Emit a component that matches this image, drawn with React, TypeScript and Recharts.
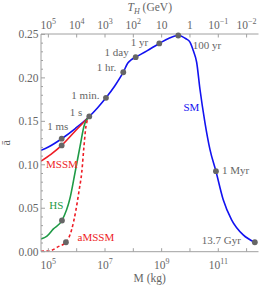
import React from 'react';
import { ComposedChart, Line, XAxis, YAxis, ReferenceDot } from 'recharts';

// Curves: [log10(M / kg), ā]
const smCurve = [
  { logM: 4.74, a: 0.1166 }, { logM: 5.0, a: 0.1205 }, { logM: 5.47, a: 0.13 }, { logM: 5.96, a: 0.142 },
  { logM: 6.445, a: 0.1556 }, { logM: 6.74, a: 0.1657 }, { logM: 7.034, a: 0.1771 }, { logM: 7.35, a: 0.191 },
  { logM: 7.645, a: 0.2065 }, { logM: 7.8, a: 0.2169 }, { logM: 7.92, a: 0.2207 }, { logM: 8.083, a: 0.2238 },
  { logM: 8.48, a: 0.2311 }, { logM: 8.916, a: 0.2396 }, { logM: 9.26, a: 0.2456 }, { logM: 9.587, a: 0.2488 },
  { logM: 9.858, a: 0.245 }, { logM: 10.0, a: 0.2412 }, { logM: 10.12, a: 0.2311 }, { logM: 10.236, a: 0.218 },
  { logM: 10.352, a: 0.1872 }, { logM: 10.529, a: 0.1486 }, { logM: 10.705, a: 0.1177 }, { logM: 10.917, a: 0.0926 },
  { logM: 11.175, a: 0.0598 }, { logM: 11.47, a: 0.0367 }, { logM: 11.88, a: 0.0193 }, { logM: 12.29, a: 0.0109 },
];
const mssmCurve = [
  { logM: 4.74, a: 0.1042 }, { logM: 5.09, a: 0.112 }, { logM: 5.47, a: 0.1223 }, { logM: 5.975, a: 0.1397 },
  { logM: 6.445, a: 0.1556 },
];
const hsCurve = [
  { logM: 4.74, a: 0.0147 }, { logM: 4.95, a: 0.018 }, { logM: 5.17, a: 0.026 }, { logM: 5.48, a: 0.0359 },
  { logM: 5.76, a: 0.061 }, { logM: 5.94, a: 0.0907 }, { logM: 6.12, a: 0.1215 }, { logM: 6.26, a: 0.1447 },
  { logM: 6.445, a: 0.1556 },
];
const amssmCurve = [
  { logM: 4.74, a: 0.0006 }, { logM: 5.06, a: 0.0012 }, { logM: 5.35, a: 0.0058 }, { logM: 5.62, a: 0.0109 },
  { logM: 5.82, a: 0.0251 }, { logM: 5.975, a: 0.0483 }, { logM: 6.09, a: 0.0714 }, { logM: 6.177, a: 0.0907 },
  { logM: 6.258, a: 0.1215 }, { logM: 6.33, a: 0.1447 }, { logM: 6.445, a: 0.1556 },
];

// Time markers
const markers = [
  { label: '1 ms', logM: 5.47, a: 0.13 },
  { label: '', logM: 5.47, a: 0.1223 },
  { label: '1 s', logM: 6.445, a: 0.1556 },
  { label: '1 min.', logM: 7.034, a: 0.1771 },
  { label: '1 hr.', logM: 7.645, a: 0.2065 },
  { label: '1 day', logM: 8.083, a: 0.2238 },
  { label: '1 yr', logM: 8.916, a: 0.2396 },
  { label: '100 yr', logM: 9.587, a: 0.2488 },
  { label: '1 Myr', logM: 10.917, a: 0.0926 },
  { label: '13.7 Gyr', logM: 12.29, a: 0.0109 },
  { label: '', logM: 5.48, a: 0.0359 },
  { label: '', logM: 5.62, a: 0.0109 },
];

// Series name labels
const seriesLabels = [
  { name: 'SM', logM: 10.05, a: 0.1663, color: 'blue' },
  { name: 'MSSM', logM: 5.48, a: 0.1003, color: 'red' },
  { name: 'HS', logM: 5.28, a: 0.054, color: 'green' },
  { name: 'aMSSM', logM: 6.68, a: 0.0167, color: 'red' },
];

const massTicks = [5, 6, 7, 8, 9, 10, 11, 12];
const massLabelExponents = [5, 7, 9, 11];
const tempExponents = [5, 4, 3, 2, 1, 0, -1, -2];
const aTicks = [0, 0.01, 0.02, 0.03, 0.04, 0.05, 0.06, 0.07, 0.08, 0.09, 0.1, 0.11, 0.12, 0.13, 0.14, 0.15,
  0.16, 0.17, 0.18, 0.19, 0.2, 0.21, 0.22, 0.23, 0.24, 0.25];
const aLabelTicks = [0, 0.05, 0.1, 0.15, 0.2, 0.25];

const FONT = "'Liberation Serif', 'Times New Roman', serif";
const AXIS = '#a0a0a0';
const TEXT = '#666666';
const DOT = '#666666';
const COLORS: Record<string, string> = { blue: '#1212f0', red: '#ee1c25', green: '#1f9a46' };

const labelStyle: Record<string, { dx: number; dy: number; anchor: string }> = {
  '1 ms': { dx: -4, dy: -8.5, anchor: 'middle' },
  '1 s': { dx: -7, dy: -0.5, anchor: 'end' },
  '1 min.': { dx: -6.5, dy: 0.8, anchor: 'end' },
  '1 hr.': { dx: -7, dy: -1.2, anchor: 'end' },
  '1 day': { dx: -7, dy: -1.2, anchor: 'end' },
  '1 yr': { dx: -11, dy: 2.2, anchor: 'end' },
  '100 yr': { dx: 14.5, dy: 13.3, anchor: 'start' },
  '1 Myr': { dx: 6, dy: 2.3, anchor: 'start' },
  '13.7 Gyr': { dx: -14, dy: 1.8, anchor: 'end' },
};

const isLabelTick = (v: number) => aLabelTicks.some((t) => Math.abs(t - v) < 1e-6);

const BottomTick = (props: any) => {
  const { x, y, payload } = props;
  const v = payload.value;
  return (
    <g>
      <line x1={x} y1={y} x2={x} y2={y - 3.5} stroke={AXIS} />
      {massLabelExponents.includes(v) && (
        <text x={x} y={y + 17} textAnchor="middle" fontSize={11.5} fill={TEXT} fontFamily={FONT}>
          10<tspan dy={-5} fontSize={8}>{v}</tspan>
        </text>
      )}
    </g>
  );
};

const TopTick = (props: any) => {
  const { x, y, payload } = props;
  const idx = massTicks.indexOf(payload.value);
  const e = tempExponents[idx];
  let content: React.ReactNode;
  if (e === 1) content = '10';
  else if (e === 0) content = '1';
  else content = (
    <>
      10<tspan dy={-5} fontSize={8}>{e < 0 ? '\u2212' + Math.abs(e) : e}</tspan>
    </>
  );
  return (
    <g>
      <line x1={x} y1={y} x2={x} y2={y + 3.5} stroke={AXIS} />
      <text x={x} y={y - 5} textAnchor="middle" fontSize={11.5} fill={TEXT} fontFamily={FONT}>
        {content}
      </text>
    </g>
  );
};

const LeftTick = (props: any) => {
  const { x, y, payload } = props;
  const v = payload.value;
  const major = isLabelTick(v);
  return (
    <g>
      <line x1={x} y1={y} x2={x + (major ? 4 : 2)} y2={y} stroke={AXIS} />
      {major && (
        <text x={x - 2.5} y={y + 4} textAnchor="end" fontSize={11.5} fill={TEXT} fontFamily={FONT}>
          {v.toFixed(2)}
        </text>
      )}
    </g>
  );
};

const RightTick = (props: any) => {
  const { x, y, payload } = props;
  const major = isLabelTick(payload.value);
  return <line x1={x} y1={y} x2={x - (major ? 4 : 2)} y2={y} stroke={AXIS} />;
};

const makeMarkerShape = (label: string) => (props: any) => {
  const { cx, cy } = props;
  const s = labelStyle[label];
  return (
    <g>
      <circle cx={cx} cy={cy} r={2.9} fill={DOT} />
      {s && (
        <text x={cx + s.dx} y={cy + s.dy} textAnchor={s.anchor as any} fontSize={11} fill={TEXT} fontFamily={FONT}>
          {label}
        </text>
      )}
    </g>
  );
};

const makeNameShape = (name: string, color: string) => (props: any) => {
  const { cx, cy } = props;
  return (
    <text x={cx} y={cy + 3.8} textAnchor="middle" fontSize={11} fill={COLORS[color]} fontFamily={FONT}>
      {name}
    </text>
  );
};

export default function App() {
  return (
    <div style={{ position: 'absolute', left: 0, top: 0 }}>
      <ComposedChart width={260} height={286} margin={{ top: 0, right: 1.5, bottom: 0, left: 0 }}>
        <XAxis
          xAxisId="bottom"
          type="number"
          dataKey="logM"
          domain={[4.74, 12.42]}
          allowDataOverflow
          ticks={massTicks}
          interval={0}
          tickSize={0}
          tickMargin={0}
          tickLine={false}
          axisLine={{ stroke: AXIS }}
          height={34.3}
          tick={<BottomTick />}
          label={{
            value: 'M (kg)',
            content: (p: any) => {
              const vb = p.viewBox;
              return (
                <text x={vb.x + vb.width / 2} y={vb.y + 30.5} textAnchor="middle" fontSize={11.5} fill={TEXT} fontFamily={FONT}>
                  M (kg)
                </text>
              );
            },
          }}
        />
        <XAxis
          xAxisId="top"
          orientation="top"
          type="number"
          dataKey="logM"
          domain={[4.74, 12.42]}
          allowDataOverflow
          ticks={massTicks}
          interval={0}
          tickSize={0}
          tickMargin={0}
          tickLine={false}
          axisLine={{ stroke: AXIS }}
          height={34}
          tick={<TopTick />}
          label={{
            value: 'T_H (GeV)',
            content: (p: any) => {
              const vb = p.viewBox;
              return (
                <text x={vb.x + vb.width / 2} y={11} textAnchor="middle" fontSize={11.5} fill={TEXT} fontFamily={FONT}>
                  <tspan fontStyle="italic">T</tspan>
                  <tspan fontStyle="italic" fontSize={8} dy={2.5}>H</tspan>
                  <tspan dy={-2.5}> (GeV)</tspan>
                </text>
              );
            },
          }}
        />
        <YAxis
          yAxisId="left"
          type="number"
          domain={[0, 0.2505]}
          allowDataOverflow
          ticks={aTicks}
          interval={0}
          tickSize={0}
          tickMargin={0}
          tickLine={false}
          axisLine={{ stroke: AXIS }}
          width={41}
          tick={<LeftTick />}
          label={{
            value: 'ā',
            content: (p: any) => {
              const vb = p.viewBox;
              const cy = vb.y + vb.height / 2;
              return (
                <text x={6} y={cy} transform={`rotate(-90 6 ${cy})`} textAnchor="middle" dominantBaseline="central" fontSize={12} fill={TEXT} fontFamily={FONT}>
                  ā
                </text>
              );
            },
          }}
        />
        <YAxis
          yAxisId="right"
          orientation="right"
          type="number"
          domain={[0, 0.2505]}
          allowDataOverflow
          ticks={aTicks}
          interval={0}
          tickSize={0}
          tickMargin={0}
          tickLine={false}
          axisLine={{ stroke: AXIS }}
          width={0}
          tick={<RightTick />}
        />
        <Line data={smCurve} dataKey="a" xAxisId="bottom" yAxisId="left" type="monotone" stroke={COLORS.blue} strokeWidth={1.6} dot={false} isAnimationActive={false} />
        <Line data={mssmCurve} dataKey="a" xAxisId="bottom" yAxisId="left" type="monotone" stroke={COLORS.red} strokeWidth={1.6} dot={false} isAnimationActive={false} />
        <Line data={hsCurve} dataKey="a" xAxisId="bottom" yAxisId="left" type="monotone" stroke={COLORS.green} strokeWidth={1.6} dot={false} isAnimationActive={false} />
        <Line data={amssmCurve} dataKey="a" xAxisId="bottom" yAxisId="left" type="monotone" stroke={COLORS.red} strokeWidth={1.6} strokeDasharray="3 2.5" dot={false} isAnimationActive={false} />
        {markers.map((m, i) => (
          <ReferenceDot key={'m' + i} xAxisId="bottom" yAxisId="left" x={m.logM} y={m.a} r={2.9} shape={makeMarkerShape(m.label)} />
        ))}
        {seriesLabels.map((s) => (
          <ReferenceDot key={s.name} xAxisId="bottom" yAxisId="left" x={s.logM} y={s.a} r={0} shape={makeNameShape(s.name, s.color)} />
        ))}
      </ComposedChart>
    </div>
  );
}
